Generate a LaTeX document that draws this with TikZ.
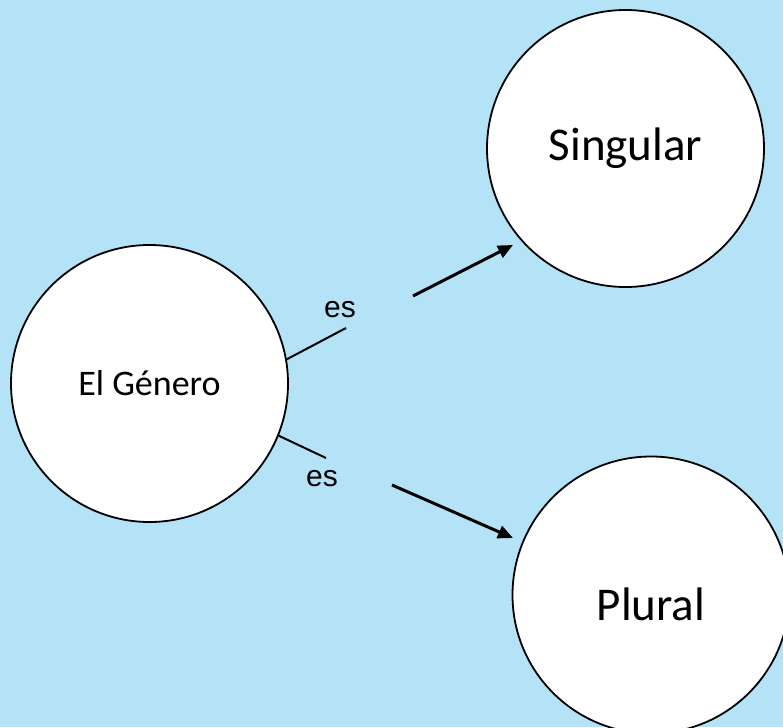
\documentclass[tikz,border=0pt]{standalone}
\usepackage{fontspec}
\setmainfont{Carlito}
\newfontfamily\esfont{Liberation Sans}
\usetikzlibrary{arrows.meta}
\definecolor{bgblue}{RGB}{180,226,247}
\tikzset{
  concept/.style={circle, draw=black, line width=1.8pt, fill=white, inner sep=0pt, minimum size=277pt},
  rel/.style={draw=black, line width=2pt},
  relarrow/.style={draw=black, line width=3pt, -{Triangle[length=15pt,width=13pt]}},
  eslabel/.style={font={\esfont\fontsize{30}{34}\selectfont}, inner sep=0pt}
}
\begin{document}
\begin{tikzpicture}[x=1pt,y=-1pt]
  \fill[bgblue] (0,0) rectangle (783,727);
  \useasboundingbox (0,0) rectangle (783,727);
  \node[concept, font=\fontsize{36}{40}\selectfont] (gen) at (149.5,383.5) {El Género};
  \node[concept, font=\fontsize{47}{52}\selectfont] (sing) at (625.5,148.5) {Singular};
  \node[concept, font=\fontsize{47}{52}\selectfont] (plur) at (651,595) {\smash{\raisebox{-25pt}{Plural}}};
  \node[eslabel] (es1) at (340,310) {es};
  \node[eslabel] (es2) at (322,479) {es};
  \coordinate (u1) at (346,328);
  \coordinate (u2) at (413,296);
  \coordinate (u3) at (513,245);
  \coordinate (l1) at (326,458);
  \coordinate (l2) at (392,485);
  \coordinate (l3) at (513,538);
  \draw[rel] (gen.10.6) -- (u1);
  \draw[relarrow] (u2) -- (u3);
  \draw[rel] (gen.-22) -- (l1);
  \draw[relarrow] (l2) -- (l3);
\end{tikzpicture}
\end{document}
